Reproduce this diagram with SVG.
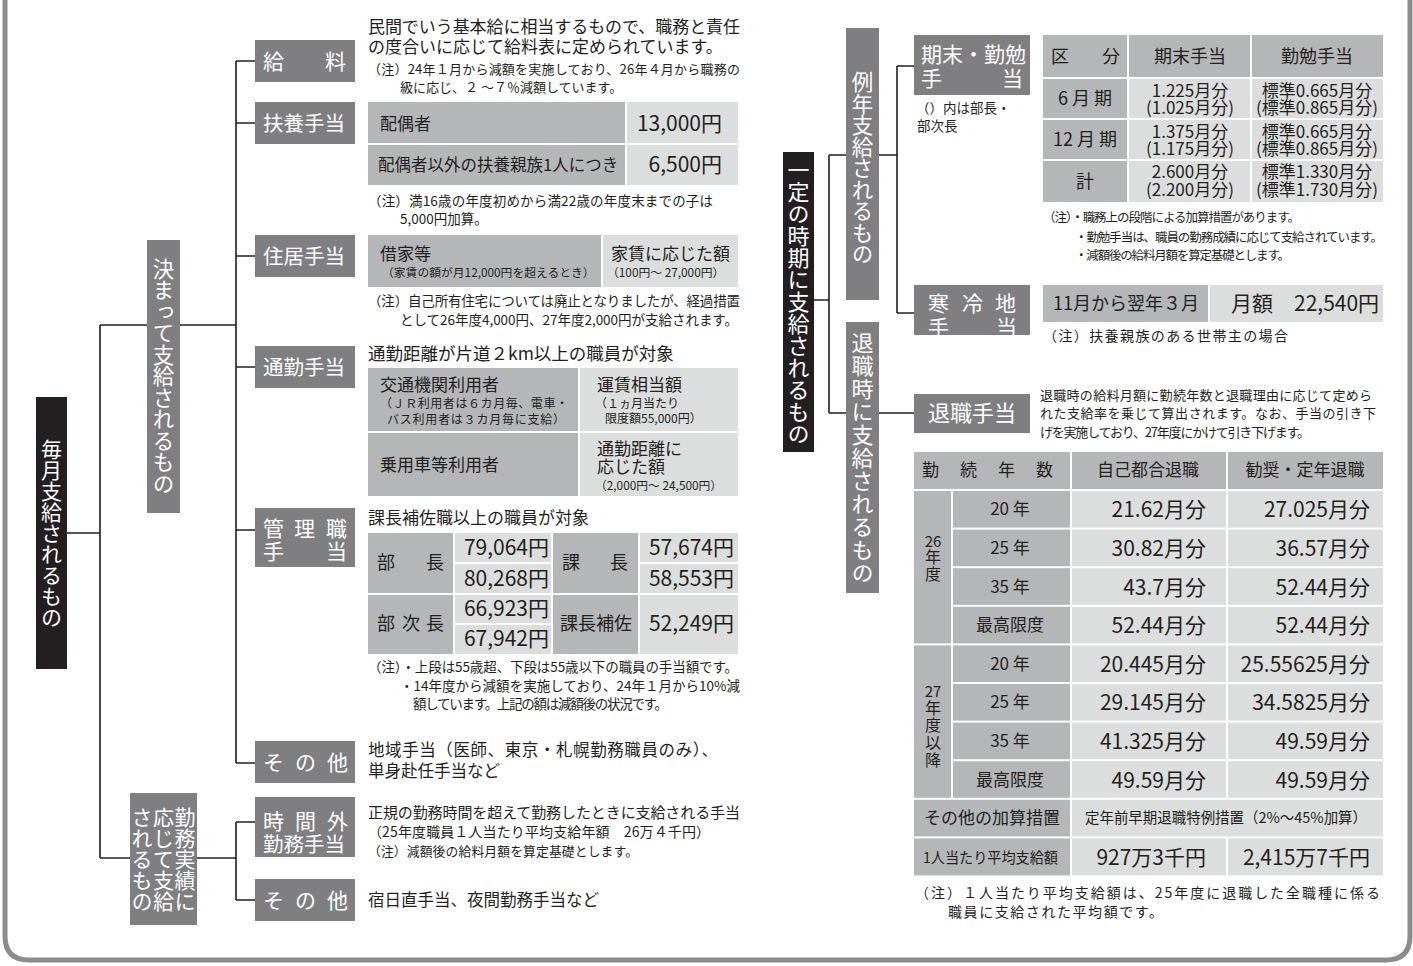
<svg xmlns="http://www.w3.org/2000/svg" width="1413" height="966" viewBox="0 0 1413 966">
<style>
text { font-family: 'Noto Sans CJK JP', 'Noto Sans', sans-serif; fill: #231f20; }
.w { fill: #ffffff; }
.v { writing-mode: vertical-rl; text-anchor: middle; }
.m { text-anchor: middle; }
.e { text-anchor: end; }
.cat { fill: #7f7f82; }
.blk { fill: #231f20; }
.dk { fill: #b5b6b8; }
.lt { fill: #dcdddd; }
.ln { stroke: #231f20; stroke-width: 1.6; fill: none; }
</style>
<rect x="0" y="0" width="1413" height="966" fill="#ffffff"/>
<path d="M5,-10 V936 Q5,960 29,960 H1386 Q1410,960 1410,936 V-10" fill="none" stroke="#8c8c8e" stroke-width="5"/>

<g id="connectors" class="ln">
<path d="M67,533 H100 M100,325 V858 M100,325 H147 M100,858 H130 M180,325 H236 M236,61 V763 M236,61 H255 M236,123 H255 M236,256 H255 M236,367 H255 M236,530 H255 M236,763 H255 M197,858 H236 M236,822 V900 M236,822 H255 M236,900 H255"/>
<path d="M814,300 H829 M829,155 V413 M829,155 H846 M829,413 H846 M879,155 H897 M897,66 V313 M897,66 H914 M897,313 H914 M879,413 H914"/>
</g>

<!-- Left tree -->
<g id="n-maitsuki"><rect class="blk" x="36" y="397" width="31" height="272"/><text class="w v" x="51.5" y="533" font-size="21">毎月支給されるもの</text></g>
<g id="n-kimatte"><rect class="cat" x="147" y="240" width="33" height="273"/><text class="w v" x="163.5" y="376" font-size="21.5">決まって支給されるもの</text></g>
<g id="n-kinmu"><rect class="cat" x="130" y="793" width="67" height="132"/>
<text class="w v" x="185" y="859" font-size="21">勤務実績に</text>
<text class="w v" x="163.5" y="859" font-size="21">応じて支給</text>
<text class="w v" x="142" y="859" font-size="21">されるもの</text></g>

<g id="n-kyuryo"><rect class="cat" x="255" y="40" width="100" height="42"/>
<text class="w" font-size="21"><tspan x="263" y="69">給</tspan><tspan x="325" y="69">料</tspan></text>
<text font-size="17"><tspan x="368" y="33" textLength="372">民間でいう基本給に相当するもので、職務と責任</tspan><tspan x="368" y="53">の度合いに応じて給料表に定められています。</tspan></text>
<text font-size="13"><tspan x="368" y="74" textLength="372">（注）24年１月から減額を実施しており、26年４月から職務の</tspan><tspan x="400" y="92">級に応じ、２ ～７％減額しています。</tspan></text></g>

<g id="n-fuyo"><rect class="cat" x="255" y="102" width="100" height="42"/><text class="w" x="263" y="131" font-size="20.5">扶養手当</text>
<rect class="dk" x="368" y="102" width="257" height="41"/><rect class="lt" x="627" y="102" width="111" height="41"/>
<rect class="dk" x="368" y="145" width="257" height="40"/><rect class="lt" x="627" y="145" width="111" height="40"/>
<text x="380" y="130" font-size="17">配偶者</text><text class="e" x="722" y="131" font-size="21">13,000円</text>
<text x="378" y="171" font-size="16.5">配偶者以外の扶養親族1人につき</text><text class="e" x="722" y="172" font-size="21">6,500円</text>
<text font-size="13.5"><tspan x="368" y="206" textLength="345">（注）満16歳の年度初めから満22歳の年度末までの子は</tspan><tspan x="400" y="224">5,000円加算。</tspan></text></g>

<g id="n-jukyo"><rect class="cat" x="255" y="235" width="100" height="42"/><text class="w" x="263" y="264" font-size="20.5">住居手当</text>
<rect class="dk" x="368" y="235" width="233" height="52"/><rect class="lt" x="603" y="235" width="135" height="52"/>
<text><tspan x="380" y="260" font-size="17">借家等</tspan><tspan x="382" y="277" font-size="11.8">（家賃の額が月12,000円を超えるとき）</tspan></text>
<text><tspan x="611" y="260" font-size="17">家賃に応じた額</tspan><tspan x="607" y="277" font-size="11.8">（100円～ 27,000円）</tspan></text>
<text font-size="13.5"><tspan x="368" y="306" textLength="372">（注）自己所有住宅については廃止となりましたが、経過措置</tspan><tspan x="400" y="325" textLength="338">として26年度4,000円、27年度2,000円が支給されます。</tspan></text></g>

<g id="n-tsukin"><rect class="cat" x="255" y="346" width="100" height="42"/><text class="w" x="263" y="375" font-size="20.5">通勤手当</text>
<text x="368" y="360" font-size="17.5">通勤距離が片道２km以上の職員が対象</text>
<rect class="dk" x="368" y="368" width="210" height="63"/><rect class="lt" x="580" y="368" width="158" height="63"/>
<rect class="dk" x="368" y="433" width="210" height="63"/><rect class="lt" x="580" y="433" width="158" height="63"/>
<text><tspan x="380" y="391" font-size="17">交通機関利用者</tspan><tspan x="380" y="408" font-size="12" textLength="188">（ＪＲ利用者は６カ月毎、電車・</tspan><tspan x="387" y="424" font-size="12" textLength="178">バス利用者は３カ月毎に支給）</tspan></text>
<text><tspan x="597" y="391" font-size="17">運賃相当額</tspan><tspan x="595" y="408" font-size="12">（１ヵ月当たり</tspan><tspan x="605" y="423" font-size="12">限度額55,000円）</tspan></text>
<text x="380" y="471" font-size="17">乗用車等利用者</text>
<text><tspan x="597" y="455" font-size="17">通勤距離に</tspan><tspan x="597" y="473" font-size="17">応じた額</tspan><tspan x="595" y="490" font-size="11.8">（2,000円～ 24,500円）</tspan></text></g>

<g id="n-kanri"><rect class="cat" x="255" y="508" width="100" height="59"/>
<text class="w" font-size="21"><tspan x="263" y="536">管</tspan><tspan x="294" y="536">理</tspan><tspan x="326" y="536">職</tspan><tspan x="263" y="559">手</tspan><tspan x="326" y="559">当</tspan></text>
<text x="368" y="524" font-size="17">課長補佐職以上の職員が対象</text>
<rect class="dk" x="368" y="533" width="85" height="60"/><rect class="lt" x="455" y="533" width="96" height="29"/><rect class="lt" x="455" y="564" width="96" height="29"/>
<rect class="dk" x="553" y="533" width="85" height="60"/><rect class="lt" x="640" y="533" width="98" height="29"/><rect class="lt" x="640" y="564" width="98" height="29"/>
<rect class="dk" x="368" y="595" width="85" height="59"/><rect class="lt" x="455" y="595" width="96" height="28"/><rect class="lt" x="455" y="625" width="96" height="29"/>
<rect class="dk" x="553" y="595" width="85" height="59"/><rect class="lt" x="640" y="595" width="98" height="59"/>
<text font-size="18"><tspan x="377" y="569">部</tspan><tspan x="426" y="569">長</tspan></text>
<text font-size="18"><tspan x="377" y="630">部</tspan><tspan x="402" y="630">次</tspan><tspan x="426" y="630">長</tspan></text>
<text font-size="18"><tspan x="562" y="569">課</tspan><tspan x="610" y="569">長</tspan></text>
<text x="560" y="630" font-size="18">課長補佐</text>
<text class="e" font-size="21"><tspan x="549" y="555">79,064円</tspan><tspan x="549" y="586">80,268円</tspan></text>
<text class="e" font-size="21"><tspan x="549" y="616">66,923円</tspan><tspan x="549" y="646">67,942円</tspan></text>
<text class="e" font-size="21"><tspan x="734" y="555">57,674円</tspan><tspan x="734" y="586">58,553円</tspan></text>
<text class="e" x="734" y="631" font-size="21">52,249円</text>
<text font-size="13.5"><tspan x="368" y="672" textLength="370">（注）・上段は55歳超、下段は55歳以下の職員の手当額です。</tspan><tspan x="400" y="691" textLength="340">・14年度から減額を実施しており、24年１月から10%減</tspan><tspan x="413" y="709" textLength="255">額しています。上記の額は減額後の状況です。</tspan></text></g>

<g id="n-sonota1"><rect class="cat" x="255" y="741" width="100" height="42"/>
<text class="w" font-size="21"><tspan x="263" y="770">そ</tspan><tspan x="295" y="770">の</tspan><tspan x="327" y="770">他</tspan></text>
<text font-size="16.5"><tspan x="368" y="756" textLength="350">地域手当（医師、東京・札幌勤務職員のみ）、</tspan><tspan x="368" y="777">単身赴任手当など</tspan></text></g>

<g id="n-jikangai"><rect class="cat" x="255" y="797" width="100" height="60"/>
<text class="w" font-size="21"><tspan x="263" y="829">時</tspan><tspan x="295" y="829">間</tspan><tspan x="327" y="829">外</tspan><tspan x="263" y="852" font-size="20.5">勤務手当</tspan></text>
<text><tspan x="368" y="818" font-size="15" textLength="372">正規の勤務時間を超えて勤務したときに支給される手当</tspan><tspan x="368" y="837" font-size="14" textLength="342">（25年度職員１人当たり平均支給年額　26万４千円）</tspan><tspan x="368" y="856" font-size="12.8" textLength="270">（注）減額後の給料月額を算定基礎とします。</tspan></text></g>

<g id="n-sonota2"><rect class="cat" x="255" y="879" width="100" height="42"/>
<text class="w" font-size="21"><tspan x="263" y="908">そ</tspan><tspan x="295" y="908">の</tspan><tspan x="327" y="908">他</tspan></text>
<text x="368" y="906" font-size="16.5">宿日直手当、夜間勤務手当など</text></g>

<!-- Right tree -->
<g id="n-ittei"><rect class="blk" x="783" y="152" width="31" height="300"/><text class="w v" x="798.5" y="302" font-size="22">一定の時期に支給されるもの</text></g>
<g id="n-reinen"><rect class="cat" x="846" y="28" width="33" height="272"/><text class="w v" x="862.5" y="168" font-size="21.5">例年支給されるもの</text></g>
<g id="n-taishokuji"><rect class="cat" x="846" y="322" width="33" height="271"/><text class="w v" x="862.5" y="458" font-size="22" letter-spacing="1">退職時に支給されるもの</text></g>

<g id="n-kimatsu"><rect class="cat" x="914" y="35" width="116" height="60"/>
<text class="w" font-size="21"><tspan x="921" y="62">期末・勤勉</tspan><tspan x="921" y="86">手</tspan><tspan x="1002" y="86">当</tspan></text>
<text font-size="13.5"><tspan x="916" y="113">（）内は部長・</tspan><tspan x="917" y="131">部次長</tspan></text>
<rect class="dk" x="1043" y="35" width="84" height="42"/><rect class="dk" x="1129" y="35" width="121" height="42"/><rect class="dk" x="1252" y="35" width="131" height="42"/>
<rect class="dk" x="1043" y="79" width="84" height="39"/><rect class="lt" x="1129" y="79" width="121" height="39"/><rect class="lt" x="1252" y="79" width="131" height="39"/>
<rect class="dk" x="1043" y="120" width="84" height="39"/><rect class="lt" x="1129" y="120" width="121" height="39"/><rect class="lt" x="1252" y="120" width="131" height="39"/>
<rect class="dk" x="1043" y="161" width="84" height="41"/><rect class="lt" x="1129" y="161" width="121" height="41"/><rect class="lt" x="1252" y="161" width="131" height="41"/>
<text font-size="18"><tspan x="1051" y="63">区</tspan><tspan x="1102" y="63">分</tspan></text>
<text class="m" x="1190" y="63" font-size="18">期末手当</text>
<text class="m" x="1317" y="63" font-size="18">勤勉手当</text>
<text class="m" x="1085" y="105" font-size="18">6 月 期</text>
<text class="m" x="1085" y="146" font-size="18">12 月 期</text>
<text class="m" x="1085" y="188" font-size="18">計</text>
<text class="m" font-size="17"><tspan x="1190" y="97">1.225月分</tspan><tspan x="1190" y="114">(1.025月分)</tspan></text>
<text class="m" font-size="17"><tspan x="1317" y="97">標準0.665月分</tspan><tspan x="1317" y="114">(標準0.865月分)</tspan></text>
<text class="m" font-size="17"><tspan x="1190" y="138">1.375月分</tspan><tspan x="1190" y="155">(1.175月分)</tspan></text>
<text class="m" font-size="17"><tspan x="1317" y="138">標準0.665月分</tspan><tspan x="1317" y="155">(標準0.865月分)</tspan></text>
<text class="m" font-size="17"><tspan x="1190" y="178">2.600月分</tspan><tspan x="1190" y="196">(2.200月分)</tspan></text>
<text class="m" font-size="17"><tspan x="1317" y="178">標準1.330月分</tspan><tspan x="1317" y="196">(標準1.730月分)</tspan></text>
<text font-size="12.5"><tspan x="1043" y="222" textLength="257">（注）・職務上の段階による加算措置があります。</tspan><tspan x="1075" y="242" textLength="308">・勤勉手当は、職員の勤務成績に応じて支給されています。</tspan><tspan x="1075" y="260" textLength="215">・減額後の給料月額を算定基礎とします。</tspan></text></g>

<g id="n-kanrei"><rect class="cat" x="914" y="285" width="116" height="50"/>
<text class="w" font-size="21"><tspan x="928" y="311">寒</tspan><tspan x="962" y="311">冷</tspan><tspan x="995" y="311">地</tspan><tspan x="928" y="335">手</tspan><tspan x="996" y="335">当</tspan></text>
<rect class="dk" x="1043" y="285" width="165" height="37"/><rect class="lt" x="1210" y="285" width="173" height="37"/>
<text x="1053" y="310" font-size="18">11月から翌年３月</text>
<text x="1231" y="311" font-size="21">月額　22,540円</text>
<text x="1043" y="341" font-size="14" textLength="245">（注）扶養親族のある世帯主の場合</text></g>

<g id="n-taishoku"><rect class="cat" x="914" y="394" width="116" height="39"/>
<text class="w m" x="972" y="421" font-size="22">退職手当</text>
<text font-size="13"><tspan x="1040" y="400" textLength="332">退職時の給料月額に勤続年数と退職理由に応じて定めら</tspan><tspan x="1040" y="418" textLength="336">れた支給率を乗じて算出されます。なお、手当の引き下</tspan><tspan x="1040" y="437" textLength="270">げを実施しており、27年度にかけて引き下げます。</tspan></text>

<rect class="dk" x="914" y="452" width="156" height="37"/><rect class="dk" x="1072" y="452" width="154" height="37"/><rect class="dk" x="1228" y="452" width="155" height="37"/>
<rect class="dk" x="914" y="491" width="37" height="152.4"/>
<rect class="dk" x="914" y="645.4" width="37" height="152.4"/>
<g id="rows">
<rect class="dk" x="953" y="491" width="117" height="36.6"/><rect class="lt" x="1072" y="491" width="154" height="36.6"/><rect class="lt" x="1228" y="491" width="155" height="36.6"/>
<rect class="dk" x="953" y="529.6" width="117" height="36.6"/><rect class="lt" x="1072" y="529.6" width="154" height="36.6"/><rect class="lt" x="1228" y="529.6" width="155" height="36.6"/>
<rect class="dk" x="953" y="568.2" width="117" height="36.6"/><rect class="lt" x="1072" y="568.2" width="154" height="36.6"/><rect class="lt" x="1228" y="568.2" width="155" height="36.6"/>
<rect class="dk" x="953" y="606.8" width="117" height="36.6"/><rect class="lt" x="1072" y="606.8" width="154" height="36.6"/><rect class="lt" x="1228" y="606.8" width="155" height="36.6"/>
<rect class="dk" x="953" y="645.4" width="117" height="36.6"/><rect class="lt" x="1072" y="645.4" width="154" height="36.6"/><rect class="lt" x="1228" y="645.4" width="155" height="36.6"/>
<rect class="dk" x="953" y="684" width="117" height="36.6"/><rect class="lt" x="1072" y="684" width="154" height="36.6"/><rect class="lt" x="1228" y="684" width="155" height="36.6"/>
<rect class="dk" x="953" y="722.6" width="117" height="36.6"/><rect class="lt" x="1072" y="722.6" width="154" height="36.6"/><rect class="lt" x="1228" y="722.6" width="155" height="36.6"/>
<rect class="dk" x="953" y="761.2" width="117" height="36.6"/><rect class="lt" x="1072" y="761.2" width="154" height="36.6"/><rect class="lt" x="1228" y="761.2" width="155" height="36.6"/>
<rect class="dk" x="914" y="799.8" width="156" height="36.6"/><rect class="lt" x="1072" y="799.8" width="311" height="36.6"/>
<rect class="dk" x="914" y="838.4" width="156" height="37"/><rect class="lt" x="1072" y="838.4" width="154" height="37"/><rect class="lt" x="1228" y="838.4" width="155" height="37"/>
</g>
<text x="922" y="476" font-size="17" letter-spacing="21">勤続年数</text>
<text class="m" x="1148" y="476" font-size="17">自己都合退職</text>
<text class="m" x="1305" y="476" font-size="17">勧奨・定年退職</text>
<text class="m" font-size="16"><tspan x="933" y="547" font-size="15">26</tspan><tspan x="933" y="563">年</tspan><tspan x="933" y="580">度</tspan></text>
<text class="m" font-size="16"><tspan x="933" y="697" font-size="15">27</tspan><tspan x="933" y="714">年</tspan><tspan x="933" y="731">度</tspan><tspan x="933" y="749">以</tspan><tspan x="933" y="766">降</tspan></text>
<text class="m" x="1010" y="515" font-size="17">20 年</text>
<text class="m" x="1010" y="554" font-size="17">25 年</text>
<text class="m" x="1010" y="593" font-size="17">35 年</text>
<text class="m" x="1010" y="631" font-size="17">最高限度</text>
<text class="m" x="1010" y="670" font-size="17">20 年</text>
<text class="m" x="1010" y="708" font-size="17">25 年</text>
<text class="m" x="1010" y="747" font-size="17">35 年</text>
<text class="m" x="1010" y="786" font-size="17">最高限度</text>
<text class="e" x="1206" y="517" font-size="21">21.62月分</text>
<text class="e" x="1206" y="556" font-size="21">30.82月分</text>
<text class="e" x="1206" y="595" font-size="21">43.7月分</text>
<text class="e" x="1206" y="633" font-size="21">52.44月分</text>
<text class="e" x="1206" y="672" font-size="21">20.445月分</text>
<text class="e" x="1206" y="710" font-size="21">29.145月分</text>
<text class="e" x="1206" y="749" font-size="21">41.325月分</text>
<text class="e" x="1206" y="788" font-size="21">49.59月分</text>
<text class="e" x="1370" y="517" font-size="21">27.025月分</text>
<text class="e" x="1370" y="556" font-size="21">36.57月分</text>
<text class="e" x="1370" y="595" font-size="21">52.44月分</text>
<text class="e" x="1370" y="633" font-size="21">52.44月分</text>
<text class="e" x="1370" y="672" font-size="21">25.55625月分</text>
<text class="e" x="1370" y="710" font-size="21">34.5825月分</text>
<text class="e" x="1370" y="749" font-size="21">49.59月分</text>
<text class="e" x="1370" y="788" font-size="21">49.59月分</text>
<text class="m" x="992" y="824" font-size="17">その他の加算措置</text>
<text x="1085" y="823" font-size="15" textLength="282" lengthAdjust="spacingAndGlyphs">定年前早期退職特例措置（2%～45%加算）</text>
<text x="923" y="863" font-size="15" textLength="135" lengthAdjust="spacingAndGlyphs">1人当たり平均支給額</text>
<text class="e" x="1206" y="865" font-size="21">927万3千円</text>
<text class="e" x="1370" y="865" font-size="21">2,415万7千円</text>
<text font-size="14"><tspan x="915" y="898" textLength="465">（注）１人当たり平均支給額は、25年度に退職した全職種に係る</tspan><tspan x="948" y="917" textLength="215">職員に支給された平均額です。</tspan></text></g>
</svg>
